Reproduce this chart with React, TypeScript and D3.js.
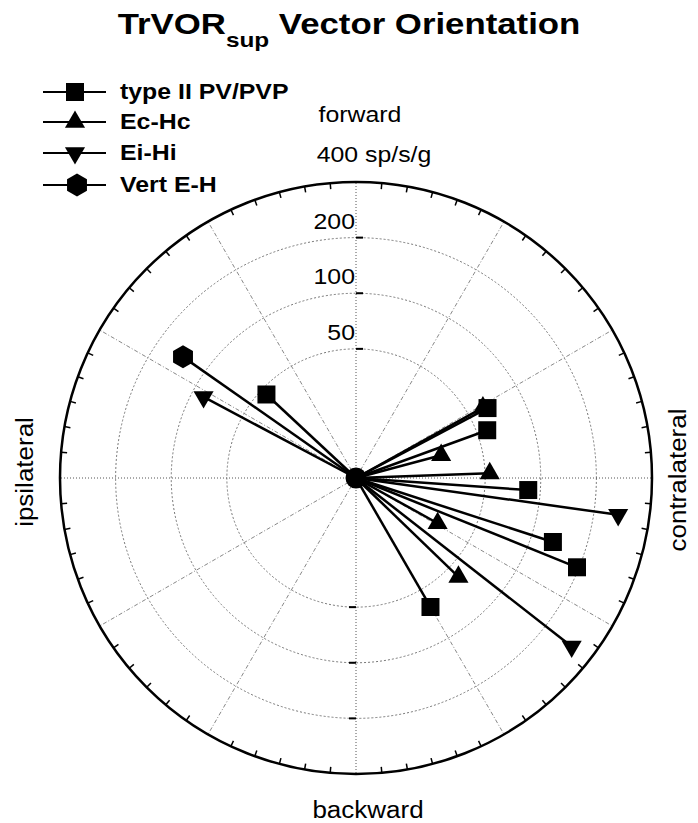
import React from "react";
import * as d3 from "d3";

// angle in degrees, 0 = contralateral (right), counter-clockwise positive
const typeIIAngles = [137, 28, 20, -4, -18, -22, -60];
const typeIIValues = [46, 64, 57, 86, 132, 195, 64];
const ecHcAngles = [29, 15, 2, -29, -44];
const ecHcValues = [61, 30, 53, 32, 59];
const eiHiAngles = [152, -8, -38];
const eiHiValues = [86, 271, 303];
const vertAngles = [145];
const vertValues = [139];

const ringValues = [50, 100, 200];
const legendLabels = ["type II PV/PVP", "Ec-Hc", "Ei-Hi", "Vert E-H"];

const W = 698;
const H = 823;
const cx = 356;
const cy = 478;
const R = 296;
const FONT = "'Liberation Sans', Arial, Helvetica, sans-serif";
const SX = 1.13;

const r = d3.scaleLog().domain([10, 400]).range([0, R]);

const hexPath = (s: number) =>
  d3.line()(d3.range(6).map(i => {
    const a = (Math.PI / 3) * i - Math.PI / 2;
    return [s * Math.cos(a), s * Math.sin(a)] as [number, number];
  })) + "Z";

const markers: Record<string, string> = {
  square: d3.symbol(d3.symbolSquare, 324)()!,
  up: d3.symbol(d3.symbolTriangle, 175)()!,
  down: d3.symbol(d3.symbolTriangle, 175)()!,
  hex: hexPath(11.5),
};

const series = [
  { name: legendLabels[0], angles: typeIIAngles, values: typeIIValues, marker: "square" },
  { name: legendLabels[1], angles: ecHcAngles, values: ecHcValues, marker: "up" },
  { name: legendLabels[2], angles: eiHiAngles, values: eiHiValues, marker: "down" },
  { name: legendLabels[3], angles: vertAngles, values: vertValues, marker: "hex" },
];

const pos = (deg: number, v: number) => {
  const a = (deg * Math.PI) / 180;
  return [cx + r(v) * Math.cos(a), cy - r(v) * Math.sin(a)];
};

const Marker = ({ x, y, kind }: { x: number; y: number; kind: string }) => (
  <path
    d={markers[kind]}
    transform={`translate(${x},${y})${kind === "down" ? " rotate(180)" : ""}`}
    fill="#000"
  />
);

const Txt = (p: any) => (
  <text
    transform={`translate(${p.x},${p.y}) rotate(${p.rotate || 0}) scale(${SX},1)`}
    fontSize={p.size}
    fontWeight={p.weight || "normal"}
    textAnchor={p.anchor || "start"}
    fontFamily={FONT}
    fill="#000"
  >
    {p.children}
  </text>
);

export default function App() {
  const spokes = d3.range(0, 360, 30);
  const ticks = d3.range(0, 360, 5).filter(d => d % 30 !== 0);

  return (
    <svg width={W} height={H} style={{ position: "absolute", left: 0, top: 0, background: "#fff" }}>
      {/* title */}
      <text
        transform={`translate(349,34) scale(1.16,1)`}
        textAnchor="middle"
        fontFamily={FONT}
        fontWeight="bold"
        fontSize={30}
      >
        TrVOR
        <tspan fontSize={21} dy={13}>sup</tspan>
        <tspan dy={-13}> Vector Orientation</tspan>
      </text>

      {/* grid rings */}
      {ringValues.map(v => (
        <circle key={v} cx={cx} cy={cy} r={r(v)} fill="none" stroke="#777" strokeWidth={1} strokeDasharray="2,2" />
      ))}
      {/* spokes */}
      {spokes.map(d => {
        const a = (d * Math.PI) / 180;
        const axis = d % 90 === 0;
        return (
          <line
            key={d}
            x1={cx}
            y1={cy}
            x2={cx + R * Math.cos(a)}
            y2={cy - R * Math.sin(a)}
            stroke={axis ? "#555" : "#888"}
            strokeWidth={1}
            strokeDasharray={axis ? "1,2" : "4,2,1,2"}
          />
        );
      })}
      {/* outer circle */}
      <circle cx={cx} cy={cy} r={R} fill="none" stroke="#000" strokeWidth={2.5} />
      {ticks.map(d => {
        const a = (d * Math.PI) / 180;
        return (
          <line
            key={d}
            x1={cx + R * Math.cos(a)}
            y1={cy - R * Math.sin(a)}
            x2={cx + (R - 6) * Math.cos(a)}
            y2={cy - (R - 6) * Math.sin(a)}
            stroke="#000"
            strokeWidth={1.5}
          />
        );
      })}
      {/* radial axis ticks + labels */}
      {ringValues.map(v => (
        <g key={v}>
          <line x1={cx} x2={cx + 7} y1={cy - r(v)} y2={cy - r(v)} stroke="#000" strokeWidth={2} />
          <line x1={cx - 7} x2={cx} y1={cy + r(v)} y2={cy + r(v)} stroke="#000" strokeWidth={2} />
          <Txt x={cx - 1} y={cy - r(v) - 9} size={22} anchor="end">{v}</Txt>
        </g>
      ))}

      {/* vectors */}
      {series.map(s =>
        s.angles.map((ang, i) => {
          const [x, y] = pos(ang, s.values[i]);
          return <line key={s.name + i} x1={cx} y1={cy} x2={x} y2={y} stroke="#000" strokeWidth={2.5} />;
        })
      )}
      {series.map(s =>
        s.angles.map((ang, i) => {
          const [x, y] = pos(ang, s.values[i]);
          return <Marker key={s.name + "m" + i} x={x} y={y} kind={s.marker} />;
        })
      )}
      <circle cx={cx} cy={cy} r={10.5} fill="#000" />

      {/* axis labels */}
      <Txt x={360} y={122} size={22} anchor="middle">forward</Txt>
      <Txt x={374} y={162} size={22} anchor="middle">400 sp/s/g</Txt>
      <Txt x={368} y={818} size={23} anchor="middle">backward</Txt>
      <Txt x={686} y={480} size={23} anchor="middle" rotate={-90}>contralateral</Txt>
      <Txt x={33} y={472} size={23} anchor="middle" rotate={-90}>ipsilateral</Txt>

      {/* legend */}
      {series.map((s, i) => {
        const y = [92, 122, 153, 185][i];
        return (
          <g key={s.name}>
            <line x1={43} x2={106} y1={y} y2={y} stroke="#000" strokeWidth={2} />
            <Marker x={s.marker === "hex" ? 77 : 75} y={y} kind={s.marker} />
            <Txt x={120} y={y + 7} size={22} weight="bold">{s.name}</Txt>
          </g>
        );
      })}
    </svg>
  );
}
